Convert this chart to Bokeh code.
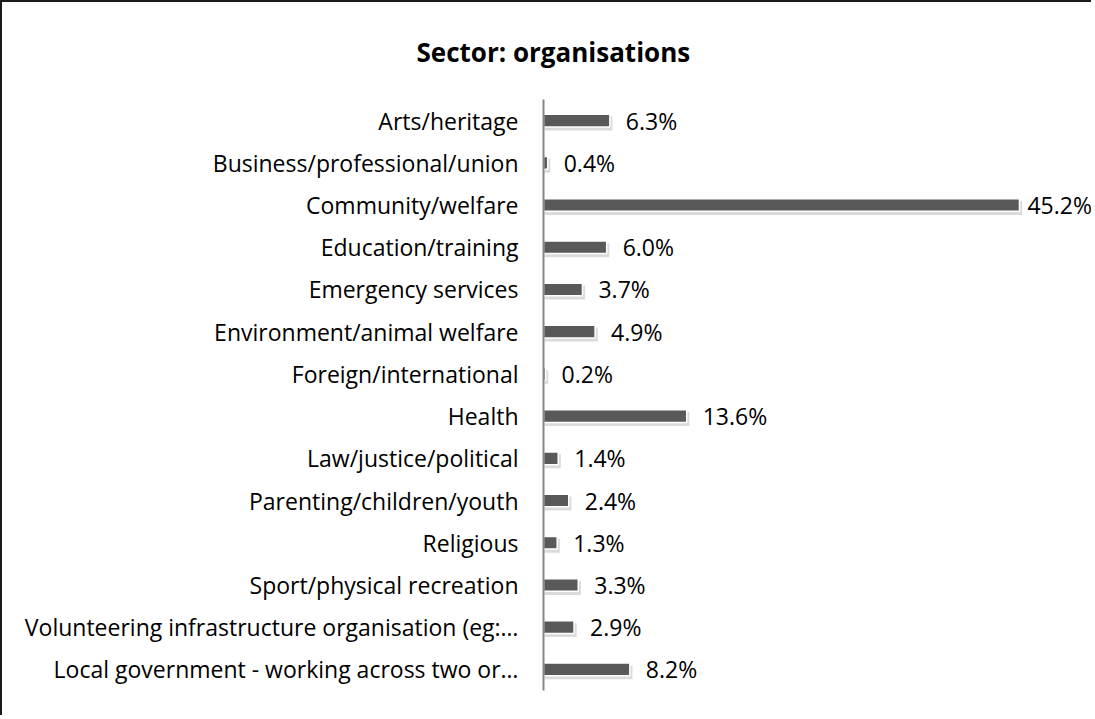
from bokeh.plotting import figure
from bokeh.models import ColumnDataSource, LabelSet, FactorRange, Range1d
from bokeh.transform import dodge
from bokeh.embed import file_html
from bokeh.resources import INLINE
from bokeh.core.properties import value

categories = [
    "Arts/heritage",
    "Business/professional/union",
    "Community/welfare",
    "Education/training",
    "Emergency services",
    "Environment/animal welfare",
    "Foreign/international",
    "Health",
    "Law/justice/political",
    "Parenting/children/youth",
    "Religious",
    "Sport/physical recreation",
    "Volunteering infrastructure organisation (eg:\u2026",
    "Local government - working across two or\u2026",
]
values = [6.3, 0.4, 45.2, 6.0, 3.7, 4.9, 0.2, 13.6, 1.4, 2.4, 1.3, 3.3, 2.9, 8.2]
value_labels = [f"{v:.1f}%" for v in values]
title_text = "Sector: organisations"

FONT = "Open Sans"
W, H = 1091, 715
vmax = max(values)

src = ColumnDataSource(dict(
    cat=categories,
    val=values,
    lab=value_labels,
    shadow=[v + 0.25 for v in values],
    off=[8 if v == vmax else 16 for v in values],
))

p = figure(
    width=W, height=H,
    y_range=FactorRange(factors=categories[::-1], range_padding=0, factor_padding=0),
    x_range=Range1d(0, 52.23),
    x_axis_location=None,
    output_backend="svg", toolbar_location=None,
    min_border_left=541, min_border_top=97, min_border_bottom=27, min_border_right=0,
)
p.styles = {"border-left": "2px solid #1a1a1a", "border-top": "2px solid #1a1a1a"}
p.outline_line_color = None
p.xgrid.visible = False
p.ygrid.visible = False
p.background_fill_color = "white"
p.border_fill_color = "white"

p.title.text = title_text
p.title.align = "left"
p.title.offset = -127
p.title.vertical_align = "middle"
p.title.standoff = 58
p.title.text_font = FONT
p.title.text_font_style = "bold"
p.title.text_font_size = "26px"
p.title.text_color = "black"

ax = p.yaxis[0]
ax.axis_line_color = "#868686"
ax.axis_line_width = 2
ax.major_tick_line_color = None
ax.minor_tick_line_color = None
ax.major_tick_out = 0
ax.major_tick_in = 0
ax.major_label_standoff = 25
ax.major_label_text_font = FONT
ax.major_label_text_font_size = "23px"
ax.major_label_text_color = "black"

# soft shadow under each bar
p.hbar(y=dodge("cat", -0.07, range=p.y_range), left=0.1, right="shadow", height=0.33,
       source=src, fill_color="#b0b0b0", fill_alpha=0.45, line_color=None)
# bars
p.hbar(y="cat", left=0, right="val", height=0.3, source=src,
       fill_color="#595959", line_color="white", line_width=1.5)

p.add_layout(LabelSet(x="val", y="cat", text="lab", x_offset="off", source=src,
                      text_baseline="middle", text_align="left",
                      text_font=value(FONT), text_font_size="23px", text_color="black"))

open("out.html", "w").write(file_html(p, INLINE))
